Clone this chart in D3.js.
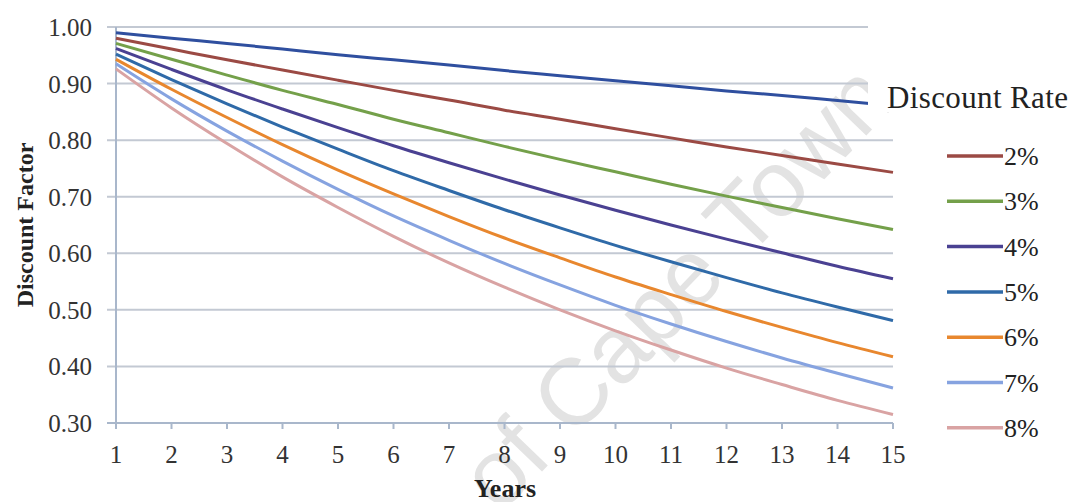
<!DOCTYPE html>
<html>
<head>
<meta charset="utf-8">
<script src="https://cdn.jsdelivr.net/npm/d3@7"></script>
<style>
  body { margin: 0; background: #fff; }
</style>
</head>
<body>
<svg width="1071" height="502"></svg>
<script>
const years = [1, 2, 3, 4, 5, 6, 7, 8, 9, 10, 11, 12, 13, 14, 15];
const rates = ["1%", "2%", "3%", "4%", "5%", "6%", "7%", "8%"];
const colors = ["#2f4f9f", "#9b4a44", "#74a04a", "#4a4192", "#2f6aa8", "#e8872e", "#86a3e0", "#d9a3a3"];
const yTicks = [0.30, 0.40, 0.50, 0.60, 0.70, 0.80, 0.90, 1.00];

const r1 = [0.990, 0.980, 0.971, 0.961, 0.951, 0.942, 0.933, 0.923, 0.914, 0.905, 0.896, 0.887, 0.879, 0.870, 0.861];
const r2 = [0.980, 0.961, 0.942, 0.924, 0.906, 0.888, 0.871, 0.853, 0.837, 0.820, 0.804, 0.788, 0.773, 0.758, 0.743];
const r3 = [0.971, 0.943, 0.915, 0.888, 0.863, 0.837, 0.813, 0.789, 0.766, 0.744, 0.722, 0.701, 0.681, 0.661, 0.642];
const r4 = [0.962, 0.925, 0.889, 0.855, 0.822, 0.790, 0.760, 0.731, 0.703, 0.676, 0.650, 0.625, 0.601, 0.577, 0.555];
const r5 = [0.952, 0.907, 0.864, 0.823, 0.784, 0.746, 0.711, 0.677, 0.645, 0.614, 0.585, 0.557, 0.530, 0.505, 0.481];
const r6 = [0.943, 0.890, 0.840, 0.792, 0.747, 0.705, 0.665, 0.627, 0.592, 0.558, 0.527, 0.497, 0.469, 0.442, 0.417];
const r7 = [0.935, 0.873, 0.816, 0.763, 0.713, 0.666, 0.623, 0.582, 0.544, 0.508, 0.475, 0.444, 0.415, 0.388, 0.362];
const r8 = [0.926, 0.857, 0.794, 0.735, 0.681, 0.630, 0.583, 0.540, 0.500, 0.463, 0.429, 0.397, 0.368, 0.340, 0.315];
const series = [r1, r2, r3, r4, r5, r6, r7, r8];

const serif = "'Liberation Serif', 'Times New Roman', serif";
const svg = d3.select("svg");

var x = d3.scaleLinear().domain([1, 15]).range([116, 893]);
var y = d3.scaleLinear().domain([0.30, 1.00]).range([423, 27]);

// watermark
svg.append("text")
    .attr("transform", "translate(500,515) rotate(-46)")
    .attr("font-family", "'Liberation Sans', Arial, sans-serif")
    .attr("font-size", 94)
    .attr("fill", "#e3e3e3")
    .text("of Cape Town");

// gridlines
svg.append("g")
    .selectAll("line")
    .data(yTicks)
    .enter().append("line")
    .attr("x1", 107).attr("x2", 893)
    .attr("y1", d => y(d)).attr("y2", d => y(d))
    .attr("stroke", d => d == 0.30 ? "#a9b7cb" : "#c3c9d3")
    .attr("stroke-width", 2);

// left axis line
svg.append("line")
    .attr("x1", 116).attr("x2", 116)
    .attr("y1", y(1.00)).attr("y2", y(0.30))
    .attr("stroke", "#a9b7cb").attr("stroke-width", 2);

// x ticks
svg.append("g")
    .selectAll("line")
    .data(years)
    .enter().append("line")
    .attr("x1", d => x(d)).attr("x2", d => x(d))
    .attr("y1", y(0.30)).attr("y2", y(0.30) + 6)
    .attr("stroke", "#a9b7cb").attr("stroke-width", 2);

svg.append("g")
    .selectAll("text")
    .data(yTicks)
    .enter().append("text")
    .attr("x", 92)
    .attr("y", d => y(d) + 9)
    .attr("text-anchor", "end")
    .attr("font-family", serif)
    .attr("font-size", 25)
    .attr("fill", "#333")
    .text(d => d.toFixed(2));

svg.append("g")
    .selectAll("text")
    .data(years)
    .enter().append("text")
    .attr("x", d => x(d))
    .attr("y", 463)
    .attr("text-anchor", "middle")
    .attr("font-family", serif)
    .attr("font-size", 25)
    .attr("fill", "#333")
    .text(d => d);

// lines
var line = d3.line()
    .x((d, i) => x(years[i]))
    .y(d => y(d))
    .curve(d3.curveMonotoneX);

svg.append("g")
    .selectAll("path")
    .data(series)
    .enter().append("path")
    .attr("d", line)
    .attr("fill", "none")
    .attr("stroke", (d, i) => colors[i])
    .attr("stroke-width", 3);

// legend box hides the end of the 1% line
svg.append("rect")
    .attr("x", 868).attr("y", 0)
    .attr("width", 203).attr("height", 112)
    .attr("fill", "#fff");

svg.append("text")
    .attr("x", 887).attr("y", 108)
    .attr("font-family", serif)
    .attr("font-size", 31)
    .attr("fill", "#222")
    .attr("textLength", 181)
    .text("Discount Rate");

var leg = svg.append("g")
    .selectAll("g")
    .data(rates.slice(1))
    .enter().append("g")
    .attr("transform", (d, i) => "translate(0," + (156 + i * 45.3) + ")");

leg.append("line")
    .attr("x1", 947).attr("x2", 1003)
    .attr("stroke", (d, i) => colors[i + 1])
    .attr("stroke-width", 3.5);

leg.append("text")
    .attr("x", 1004).attr("y", 9)
    .attr("font-family", serif)
    .attr("font-size", 26)
    .attr("fill", "#222")
    .text(d => d);

svg.append("text")
    .attr("transform", "translate(33,225) rotate(-90)")
    .attr("text-anchor", "middle")
    .attr("font-family", serif)
    .attr("font-size", 24)
    .attr("font-weight", "bold")
    .attr("fill", "#222")
    .text("Discount  Factor");

svg.append("text")
    .attr("x", 505).attr("y", 497)
    .attr("text-anchor", "middle")
    .attr("font-family", serif)
    .attr("font-size", 26)
    .attr("font-weight", "bold")
    .attr("fill", "#222")
    .text("Years");
</script>
</body>
</html>
